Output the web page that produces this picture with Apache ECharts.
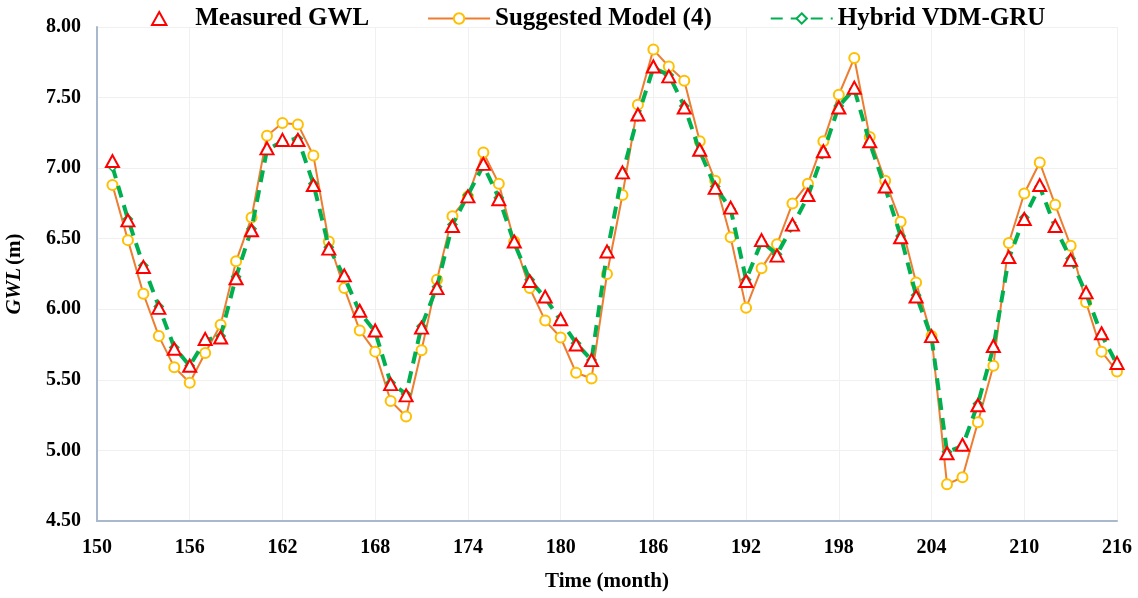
<!DOCTYPE html>
<html>
<head>
<meta charset="utf-8">
<script src="https://cdn.jsdelivr.net/npm/echarts@6/dist/echarts.min.js"></script>
<style>
  html, body { margin: 0; padding: 0; background: #fff; }
  #chart { width: 1138px; height: 598px; }
</style>
</head>
<body>
<div id="chart"></div>
<script>
// months on the x axis
const months = [151, 152, 153, 154, 155, 156, 157, 158, 159, 160, 161, 162, 163, 164, 165, 166, 167, 168, 169, 170,
  171, 172, 173, 174, 175, 176, 177, 178, 179, 180, 181, 182, 183, 184, 185, 186, 187, 188, 189, 190,
  191, 192, 193, 194, 195, 196, 197, 198, 199, 200, 201, 202, 203, 204, 205, 206, 207, 208, 209, 210,
  211, 212, 213, 214, 215, 216];

const measured = [7.05, 6.63, 6.30, 6.01, 5.72, 5.60, 5.79, 5.80, 6.22, 6.56, 7.14, 7.20, 7.20, 6.88, 6.43, 6.24, 5.99, 5.85, 5.47, 5.39,
  5.87, 6.15, 6.59, 6.80, 7.03, 6.78, 6.48, 6.20, 6.09, 5.93, 5.75, 5.64, 6.41, 6.97, 7.38, 7.72, 7.65, 7.43, 7.13, 6.86,
  6.72, 6.20, 6.49, 6.38, 6.60, 6.81, 7.12, 7.43, 7.57, 7.19, 6.87, 6.51, 6.09, 5.81, 4.98, 5.04, 5.32, 5.74, 6.37, 6.64,
  6.88, 6.59, 6.35, 6.12, 5.83, 5.62];

const suggested = [6.88, 6.49, 6.11, 5.81, 5.59, 5.48, 5.69, 5.89, 6.34, 6.65, 7.23, 7.32, 7.31, 7.09, 6.48, 6.15, 5.85, 5.70, 5.35, 5.24,
  5.71, 6.21, 6.66, 6.80, 7.11, 6.89, 6.48, 6.15, 5.92, 5.80, 5.55, 5.51, 6.25, 6.81, 7.45, 7.84, 7.72, 7.62, 7.19, 6.91,
  6.51, 6.01, 6.29, 6.46, 6.75, 6.89, 7.19, 7.52, 7.78, 7.22, 6.91, 6.62, 6.19, 5.81, 4.76, 4.81, 5.20, 5.60, 6.47, 6.82,
  7.04, 6.74, 6.45, 6.05, 5.70, 5.56];

const hybrid = [7.01, 6.64, 6.31, 6.02, 5.73, 5.60, 5.78, 5.81, 6.23, 6.57, 7.13, 7.19, 7.21, 6.89, 6.44, 6.23, 5.98, 5.84, 5.48, 5.40,
  5.88, 6.16, 6.60, 6.81, 7.02, 6.79, 6.47, 6.21, 6.08, 5.92, 5.76, 5.64, 6.40, 6.96, 7.37, 7.71, 7.66, 7.44, 7.12, 6.87,
  6.71, 6.21, 6.48, 6.39, 6.59, 6.80, 7.11, 7.44, 7.56, 7.18, 6.86, 6.52, 6.10, 5.80, 4.99, 5.03, 5.33, 5.73, 6.36, 6.65,
  6.87, 6.58, 6.36, 6.11, 5.82, 5.61];

const pairs = (vals) => months.map((m, i) => [m, vals[i]]);

const font = "'Liberation Serif', 'Times New Roman', serif";
const chart = echarts.init(document.getElementById('chart'));

chart.setOption({
  animation: false,
  textStyle: { fontFamily: font },
  legend: {
    top: 1,
    left: 146,
    itemGap: 58,
    itemWidth: 62,
    itemHeight: 13,
    symbolKeepAspect: true,
    textStyle: { fontFamily: font, fontWeight: 'bold', fontSize: 25, color: '#000' },
    data: [
      { name: 'Measured GWL', icon: 'path://M5,0L10,9L0,9Z' },
      'Suggested Model (4)',
      'Hybrid VDM-GRU'
    ]
  },
  grid: { left: 97, right: 21, top: 27, bottom: 77, containLabel: false, outerBoundsMode: 'none' },
  xAxis: {
    type: 'value',
    min: 150,
    max: 216,
    interval: 6,
    name: 'Time (month)',
    nameLocation: 'middle',
    nameGap: 50,
    nameTextStyle: { fontFamily: font, fontWeight: 'bold', fontSize: 21, color: '#000' },
    axisLine: { lineStyle: { color: '#a9b8cc', width: 2 } },
    axisTick: { show: false },
    axisLabel: { margin: 17, fontFamily: font, fontWeight: 'bold', fontSize: 20, color: '#000' },
    splitLine: { show: true, lineStyle: { color: '#f0f0f0', width: 1 } }
  },
  yAxis: {
    type: 'value',
    min: 4.5,
    max: 8,
    interval: 0.5,
    name: '{i|GWL} {n|(m)}',
    nameLocation: 'middle',
    nameGap: 72,
    nameTextStyle: {
      rich: {
        i: { fontFamily: font, fontWeight: 'bold', fontStyle: 'italic', fontSize: 21, color: '#000' },
        n: { fontFamily: font, fontWeight: 'bold', fontSize: 21, color: '#000' }
      }
    },
    axisLine: { show: true, lineStyle: { color: '#a9b8cc', width: 2 } },
    axisTick: { show: false },
    axisLabel: {
      margin: 16,
      fontFamily: font, fontWeight: 'bold', fontSize: 20, color: '#000',
      formatter: (v) => v.toFixed(2)
    },
    splitLine: { show: true, lineStyle: { color: '#f0f0f0', width: 1 } }
  },
  series: [
    {
      name: 'Suggested Model (4)',
      type: 'line',
      z: 2,
      data: pairs(suggested),
      symbol: 'circle',
      symbolSize: 10,
      showAllSymbol: true,
      lineStyle: { color: '#ed7d31', width: 2 },
      itemStyle: { color: '#fff', borderColor: '#ffc000', borderWidth: 2 }
    },
    {
      name: 'Hybrid VDM-GRU',
      type: 'line',
      z: 3,
      data: pairs(hybrid),
      symbol: 'diamond',
      symbolSize: 9,
      showAllSymbol: true,
      lineStyle: { color: '#00b050', width: 4, type: [12, 8] },
      itemStyle: { color: '#fff', borderColor: '#00b050', borderWidth: 1.5 }
    },
    {
      name: 'Measured GWL',
      type: 'scatter',
      z: 4,
      data: pairs(measured),
      symbol: 'triangle',
      symbolSize: [13, 12],
      itemStyle: { color: '#fff', borderColor: '#ff0000', borderWidth: 2, opacity: 1 }
    }
  ]
});
</script>
</body>
</html>
